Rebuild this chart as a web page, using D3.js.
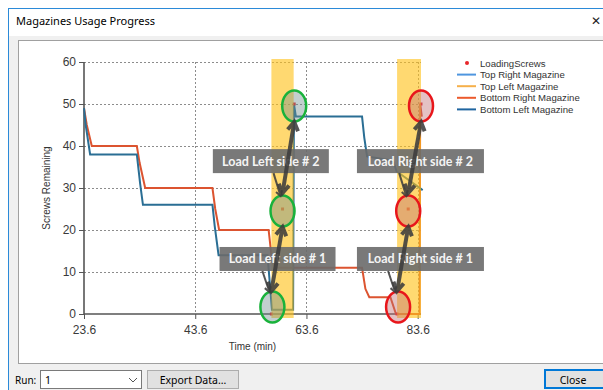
<!DOCTYPE html>
<html><head><meta charset="utf-8">
<script src="https://cdn.jsdelivr.net/npm/d3@7"></script>
<style>
html,body{margin:0;padding:0;background:#fff;}
svg{display:block;}
</style></head>
<body>
<svg id="c" width="603" height="390"></svg>
<script>
// ---- data ----
const xTicks = [23.6, 43.6, 63.6, 83.6];
const yTicks = [0, 10, 20, 30, 40, 50, 60];
const legendNames = ["LoadingScrews", "Top Right Magazine", "Top Left Magazine", "Bottom Right Magazine", "Bottom Left Magazine"];
const loadingScrews = [[57.3,0],[59.3,25],[61.4,50],[79.9,0],[81.9,25],[84.2,50]];
const topRight = [];
const topLeft = [];
const bottomRight = [[23.6,49],[24.1,45],[25.0,40],[33.1,40],[33.6,36],[34.6,30],[46.7,30],[47.2,25],[47.9,20],[56.8,20],[57.3,14],[57.9,11],[73.6,11],[74.2,6],[74.9,4],[78.7,4],[79.7,0],[83.95,0],[84.05,50],[84.35,47]];
const bottomLeft = [[23.6,49],[23.9,45],[24.7,38],[33.1,38],[33.7,31],[34.2,26],[46.7,26],[47.1,21],[47.8,14],[56.6,14],[57.4,1],[61.2,1],[61.35,50],[61.7,47],[73.6,47],[74.0,42],[74.5,37.5],[79.2,36.5],[79.8,34],[84.5,29.5]];
const loadBands = [[57.3,61.3],[79.9,84.2]];
const leftCircles = [[57.3,0],[59.3,25],[61.4,50]];
const rightCircles = [[79.9,0],[81.9,25],[84.2,50]];
const labels = [
  {text:"Load Left side # 2", t:57.2, v:36.4, w:116},
  {text:"Load Left side # 1", t:58.4, v:13.1, w:116},
  {text:"Load Right side # 2", t:84.1, v:36.4, w:127},
  {text:"Load Right side # 1", t:84.1, v:13.1, w:127}
];

const svg = d3.select("#c");
const FONT = "'Liberation Sans', Arial, sans-serif";
const UI = "'Noto Sans', sans-serif";

// ---- window chrome ----
svg.append("rect").attr("x",0).attr("y",0).attr("width",603).attr("height",390).attr("fill","#ffffff");
svg.append("rect").attr("x",8).attr("y",8).attr("width",600).attr("height",390).attr("fill","#f0f0f0");
svg.append("rect").attr("x",8).attr("y",8).attr("width",600).attr("height",28).attr("fill","#ffffff");
svg.append("line").attr("x1",8.5).attr("x2",8.5).attr("y1",8).attr("y2",390).attr("stroke","#2b8ad8");
svg.append("line").attr("x1",8).attr("x2",603).attr("y1",8.5).attr("y2",8.5).attr("stroke","#2b8ad8");
svg.append("text").attr("x",16).attr("y",25).attr("font-family",UI).attr("font-size",11).attr("fill","#000").text("Magazines Usage Progress");
svg.append("text").attr("x",591).attr("y",25).attr("font-family","'DejaVu Sans', sans-serif").attr("font-size",12).attr("fill","#222").text("✕");

// chart panel
svg.append("rect").attr("x",18.5).attr("y",40.5).attr("width",600).attr("height",323).attr("fill","#fff").attr("stroke","#a0a0a0");

// bottom controls
svg.append("text").attr("x",15).attr("y",384).attr("font-family",UI).attr("font-size",10).attr("fill","#000").text("Run:");
svg.append("rect").attr("x",40.5).attr("y",370.5).attr("width",101).attr("height",18).attr("fill","#fff").attr("stroke","#7a7a7a");
svg.append("text").attr("x",45).attr("y",384).attr("font-family",UI).attr("font-size",10.5).attr("fill","#000").text("1");
svg.append("path").attr("d","M129,378 l4,4 l4,-4").attr("fill","none").attr("stroke","#555").attr("stroke-width",1);
svg.append("rect").attr("x",147.5).attr("y",370.5).attr("width",91).attr("height",18).attr("fill","#e1e1e1").attr("stroke","#adadad");
svg.append("text").attr("x",193).attr("y",384).attr("text-anchor","middle").attr("font-family",UI).attr("font-size",10.5).attr("fill","#000").text("Export Data...");
svg.append("rect").attr("x",545).attr("y",370).attr("width",62).attr("height",18).attr("fill","#e1e1e1").attr("stroke","#0078d7").attr("stroke-width",2);
svg.append("text").attr("x",573).attr("y",384).attr("text-anchor","middle").attr("font-family",UI).attr("font-size",10.5).attr("fill","#000").text("Close");

// ---- chart ----
const x = d3.scaleLinear().domain([23.6, 84.2]).range([84, 421]);
const y = d3.scaleLinear().domain([0, 60]).range([314, 62]);

const g = svg.append("g");
// gridlines
g.selectAll(".hg").data(yTicks.filter(d=>d>0)).join("line")
  .attr("x1",x(23.6)).attr("x2",x.range()[1]).attr("y1",d=>y(d)+0.5).attr("y2",d=>y(d)+0.5)
  .attr("stroke","#8c8c8c").attr("stroke-dasharray","2,2").attr("stroke-width",1);
g.selectAll(".vg").data(xTicks.slice(1)).join("line")
  .attr("x1",d=>Math.round(x(d))+0.5).attr("x2",d=>Math.round(x(d))+0.5).attr("y1",y(60)).attr("y2",y(0))
  .attr("stroke","#8c8c8c").attr("stroke-dasharray","2,2").attr("stroke-width",1);

// axes
const yAxis = g.append("g").attr("transform",`translate(${x(23.6)},0)`)
  .call(d3.axisLeft(y).tickValues(yTicks).tickSize(5).tickFormat(d3.format("d")));
const xAxis = g.append("g").attr("transform",`translate(0,${y(0)})`)
  .call(d3.axisBottom(x).tickValues(xTicks).tickSize(5).tickFormat(d3.format(".1f")));
[yAxis, xAxis].forEach(a=>{
  a.select(".domain").attr("stroke","#555").attr("stroke-width",1.6);
  a.selectAll(".tick line").attr("stroke","#555");
  a.selectAll("text").attr("font-family",FONT).attr("font-size",12).attr("fill","#3a3a3a");
});
xAxis.select(".domain").attr("d",`M${x.range()[0]},0H${x.range()[1]}`);
yAxis.select(".domain").attr("d",`M0,${y.range()[0]}V${y.range()[1]}`);
xAxis.selectAll("text").attr("dy","1.0em");

svg.append("text").attr("transform",`translate(50,${(y(0)+y(60))/2}) rotate(-90)`).attr("text-anchor","middle")
  .attr("font-family",FONT).attr("font-size",10).attr("fill","#333").text("Screws Remaining");
svg.append("text").attr("x",(x(23.6)+x(84.2))/2).attr("y",350).attr("text-anchor","middle")
  .attr("font-family",FONT).attr("font-size",10).attr("fill","#333").text("Time (min)");

// lines
const line = d3.line().x(d=>x(d[0])).y(d=>y(d[1]));
const colors = {lsc:"#e8262b", tr:"#4f96df", tl:"#f6b04a", br:"#dc5430", bl:"#2a6e94"};
g.append("path").datum(topRight).attr("d",line).attr("fill","none").attr("stroke",colors.tr).attr("stroke-width",2);
g.append("path").datum(topLeft).attr("d",line).attr("fill","none").attr("stroke",colors.tl).attr("stroke-width",2);
g.append("path").datum(bottomRight).attr("d",line).attr("fill","none").attr("stroke",colors.br).attr("stroke-width",2);
g.append("path").datum(bottomLeft).attr("d",line).attr("fill","none").attr("stroke",colors.bl).attr("stroke-width",2);
g.selectAll(".ls").data(loadingScrews).join("rect")
  .attr("x",d=>x(d[0])-1.5).attr("y",d=>y(d[1])-1.5).attr("width",3).attr("height",3).attr("fill",colors.lsc);

// legend
const leg = svg.append("g");
legendNames.forEach((n,i)=>{
  const yy = 63 + i*11.6;
  if(i===0){
    leg.append("circle").attr("cx",467).attr("cy",yy).attr("r",2).attr("fill",colors.lsc);
  } else {
    const c = [null,colors.tr,colors.tl,"#ec5a2c","#1f65a0"][i];
    leg.append("line").attr("x1",457).attr("x2",476).attr("y1",yy).attr("y2",yy).attr("stroke",c).attr("stroke-width",2);
  }
  leg.append("text").attr("x",480).attr("y",yy+3.5).attr("font-family",FONT).attr("font-size",9.6).attr("fill","#333").text(n);
});

// ---- annotations ----
const ann = svg.append("g");
loadBands.forEach(b=>{
  ann.append("rect").attr("x",x(b[0])).attr("y",y(60)-3).attr("width",x(b[1])-x(b[0])).attr("height",y(0)-y(60)+7)
    .attr("fill","#ffc21a").attr("opacity",0.62);
});
labels.forEach(l=>{
  const cx = x(l.t), cy = y(l.v);
  ann.append("rect").attr("x",cx-l.w/2).attr("y",cy-12).attr("width",l.w).attr("height",24).attr("fill","#6a6a6a").attr("opacity",0.9);
  ann.append("text").attr("x",cx).attr("y",cy+4.5).attr("text-anchor","middle").attr("font-family","Lato, sans-serif")
    .attr("font-weight","bold").attr("font-size",12.5).attr("fill","#f4f4f4").text(l.text);
});
function circ(pts, stroke, fill){
  pts.forEach(p=>{
    const cy = p[1]===0 ? y(p[1])-7 : y(p[1])+2;
    ann.append("ellipse").attr("cx",x(p[0])+(p[1]===0?1:0)).attr("cy",cy).attr("rx",12).attr("ry",15.5)
      .attr("fill",fill).attr("stroke",stroke).attr("stroke-width",2.5);
  });
}
circ(leftCircles, "#19b23b", "rgba(110,140,140,0.42)");
circ(rightCircles, "#e8161b", "rgba(190,110,115,0.42)");

function arrow(x1,y1,x2,y2,w,hs){
  const a = Math.atan2(y2-y1,x2-x1);
  const p = ann.append("g").attr("stroke","#3d3d3d").attr("stroke-width",w).attr("fill","none").attr("opacity",0.88).attr("stroke-linecap","butt");
  p.append("line").attr("x1",x1).attr("y1",y1).attr("x2",x2).attr("y2",y2);
  const head = (hx,hy,ang)=>{
    const l = hs, s = 0.55;
    p.append("path").attr("d",`M${hx+l*Math.cos(ang+Math.PI-s)},${hy+l*Math.sin(ang+Math.PI-s)}L${hx},${hy}L${hx+l*Math.cos(ang+Math.PI+s)},${hy+l*Math.sin(ang+Math.PI+s)}`);
  };
  head(x2,y2,a);
  if(w>3) head(x1,y1,a+Math.PI);
}
function pair(p1,p2){
  const ax = x(p1[0]), ay = y(p1[1]) - (p1[1]===0?7:0) - 16;
  const bx = x(p2[0]), by = y(p2[1]) + 2 + 16;
  arrow(ax,ay,bx,by,4,10);
}
pair(leftCircles[0], leftCircles[1]); pair(leftCircles[1], leftCircles[2]);
pair(rightCircles[0], rightCircles[1]); pair(rightCircles[1], rightCircles[2]);
// callouts from labels
function callout(l, p){
  const sx = x(p[0]) - 9, sy = y(l.v)+12;
  const ex = x(p[0]) - 2, ey = (p[1]===0 ? y(p[1])-7 : y(p[1])+2) - 15;
  arrow(sx,sy,ex,ey,2,6);
}
callout(labels[1], leftCircles[0]); callout(labels[0], leftCircles[1]);
callout(labels[3], rightCircles[0]); callout(labels[2], rightCircles[1]);
</script>
</body></html>
